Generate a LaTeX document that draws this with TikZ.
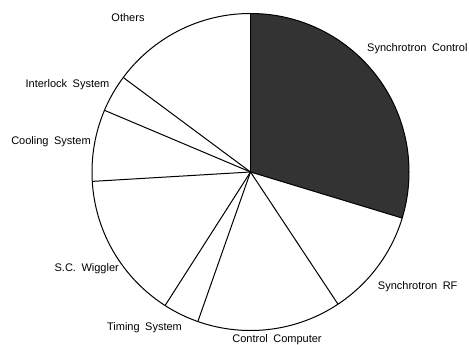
\documentclass[tikz,border=0pt]{standalone}
\usepackage{fontspec}
\setmainfont{Liberation Sans}
\usepackage{tikz}
\usetikzlibrary{positioning}

\newcommand{\piefont}{\fontsize{11}{12}\selectfont\spaceskip=0.5em\relax}

\begin{document}
\begin{tikzpicture}[x=1pt,y=1pt,every node/.style={font=\piefont,inner sep=0pt},
  slice/.style={line width=1pt}]

  \useasboundingbox (0,0) rectangle (469,345);

  \def \r {158.5}
  \coordinate (c) at (250.5,173);

  % shaded part
  \fill[black!80] (c) -- ++(-16.9:\r) arc[start angle=-16.9,end angle=90,radius=\r] -- cycle;

  % outline and sectors
  \draw[slice] (c) circle[radius=\r];
  \draw[slice] (c) -- ++(90:\r);
  \draw[slice] (c) -- ++(143.4:\r);
  \draw[slice] (c) -- ++(157.1:\r);
  \draw[slice] (c) -- ++(183.4:\r);
  \draw[slice] (c) -- ++(237.4:\r);
  \draw[slice] (c) -- ++(250.6:\r);
  \draw[slice] (c) -- ++(303.5:\r);
  \draw[slice] (c) -- ++(343.1:\r);

  % labels
  \node (others)  at (128,327)   {Others};
  \node[anchor=west] (synctrl) at (367,296) {Synchrotron Control};
  \node (interlock) at (67.5,260) {Interlock System};
  \node (cooling) at (51,203)    {Cooling System};
  \node (wiggler) at (86.7,76)   {S.C. Wiggler};
  \node (timing)  at (144.5,17)  {Timing System};
  \node (ctrlcomp) at (277,5)    {Control Computer};
  \node (syncrf)  at (417.7,58)  {Synchrotron RF};

\end{tikzpicture}
\end{document}
